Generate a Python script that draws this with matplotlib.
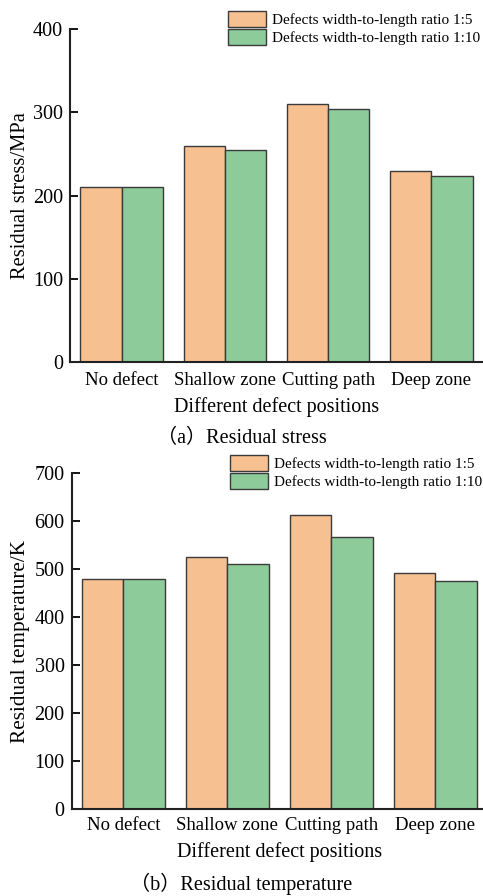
import matplotlib
matplotlib.use("Agg")
import matplotlib.pyplot as plt
import numpy as np

plt.rcParams['font.family'] = ['Liberation Serif', 'Noto Sans CJK SC', 'DejaVu Sans']

categories = ["No defect", "Shallow zone", "Cutting path", "Deep zone"]
series_names = ["Defects width-to-length ratio 1:5", "Defects width-to-length ratio 1:10"]
stress_1_5 = [210, 260, 310, 230]
stress_1_10 = [210, 255, 304, 224]
temp_1_5 = [480, 526, 612, 491]
temp_1_10 = [480, 510, 567, 475]
stress_ticks = [0, 100, 200, 300, 400]
temp_ticks = [0, 100, 200, 300, 400, 500, 600, 700]

c_orange = "#F7C091"
c_green = "#8DCB9B"
edge = "#3a3a3a"

W, H = 483, 896
fig = plt.figure(figsize=(W / 100, H / 100), dpi=100)

def px_axes(l, r, t, b):
    return fig.add_axes([l / W, 1 - b / H, (r - l) / W, (b - t) / H])

def draw(ax, v1, v2, ticks, ylabel, caption, cap_y, leg_x, leg_y, left_px, width_px, tick_pad, ylab_fs, xlab_pad):
    x = np.arange(len(categories))
    w = 0.4
    b1 = ax.bar(x - w / 2, v1, w, color=c_orange, edgecolor=edge, linewidth=1.0)
    b2 = ax.bar(x + w / 2, v2, w, color=c_green, edgecolor=edge, linewidth=1.0)
    ax.set_xlim(-0.5, len(categories) - 0.5)
    ax.set_ylim(ticks[0], ticks[-1])
    ax.set_yticks(ticks)
    ax.set_xticks(x)
    ax.set_xticklabels(categories, fontsize=13.5)
    ax.tick_params(axis='x', length=0, pad=tick_pad)
    ax.tick_params(axis='y', direction='in', length=6, width=1.3, labelsize=14.5, pad=5)
    for s in ['top', 'right']:
        ax.spines[s].set_visible(False)
    for s in ['left', 'bottom']:
        ax.spines[s].set_linewidth(1.5)
        ax.spines[s].set_color('#222222')
    ax.set_xlabel("Different defect positions", fontsize=14.5, labelpad=xlab_pad)
    ax.set_ylabel(ylabel, fontsize=ylab_fs)
    ax.yaxis.set_label_coords((30 - left_px) / width_px, 0.5)
    fig.text(0.5, 1 - cap_y / H, caption, ha='center', va='center', fontsize=14.5)
    fig.legend([b1, b2], series_names, loc='upper left',
               bbox_to_anchor=(leg_x / W, 1 - leg_y / H), bbox_transform=fig.transFigure,
               frameon=False, fontsize=11, handlelength=2.5, handleheight=1.25,
               labelspacing=0.12, handletextpad=0.4, borderpad=0, borderaxespad=0)

ax1 = px_axes(70, 483, 29, 362)
draw(ax1, stress_1_5, stress_1_10, stress_ticks, "Residual stress/MPa",
     "（a）Residual stress", 438, 228, 11, 70, 413, 7.5, 14.8, 5.5)

ax2 = px_axes(71.5, 487, 473, 809)
draw(ax2, temp_1_5, temp_1_10, temp_ticks, "Residual temperature/K",
     "（b）Residual temperature", 884, 230, 455, 71.5, 415.5, 6.0, 15.3, 5.5)

fig.savefig("out.png", dpi=100)
